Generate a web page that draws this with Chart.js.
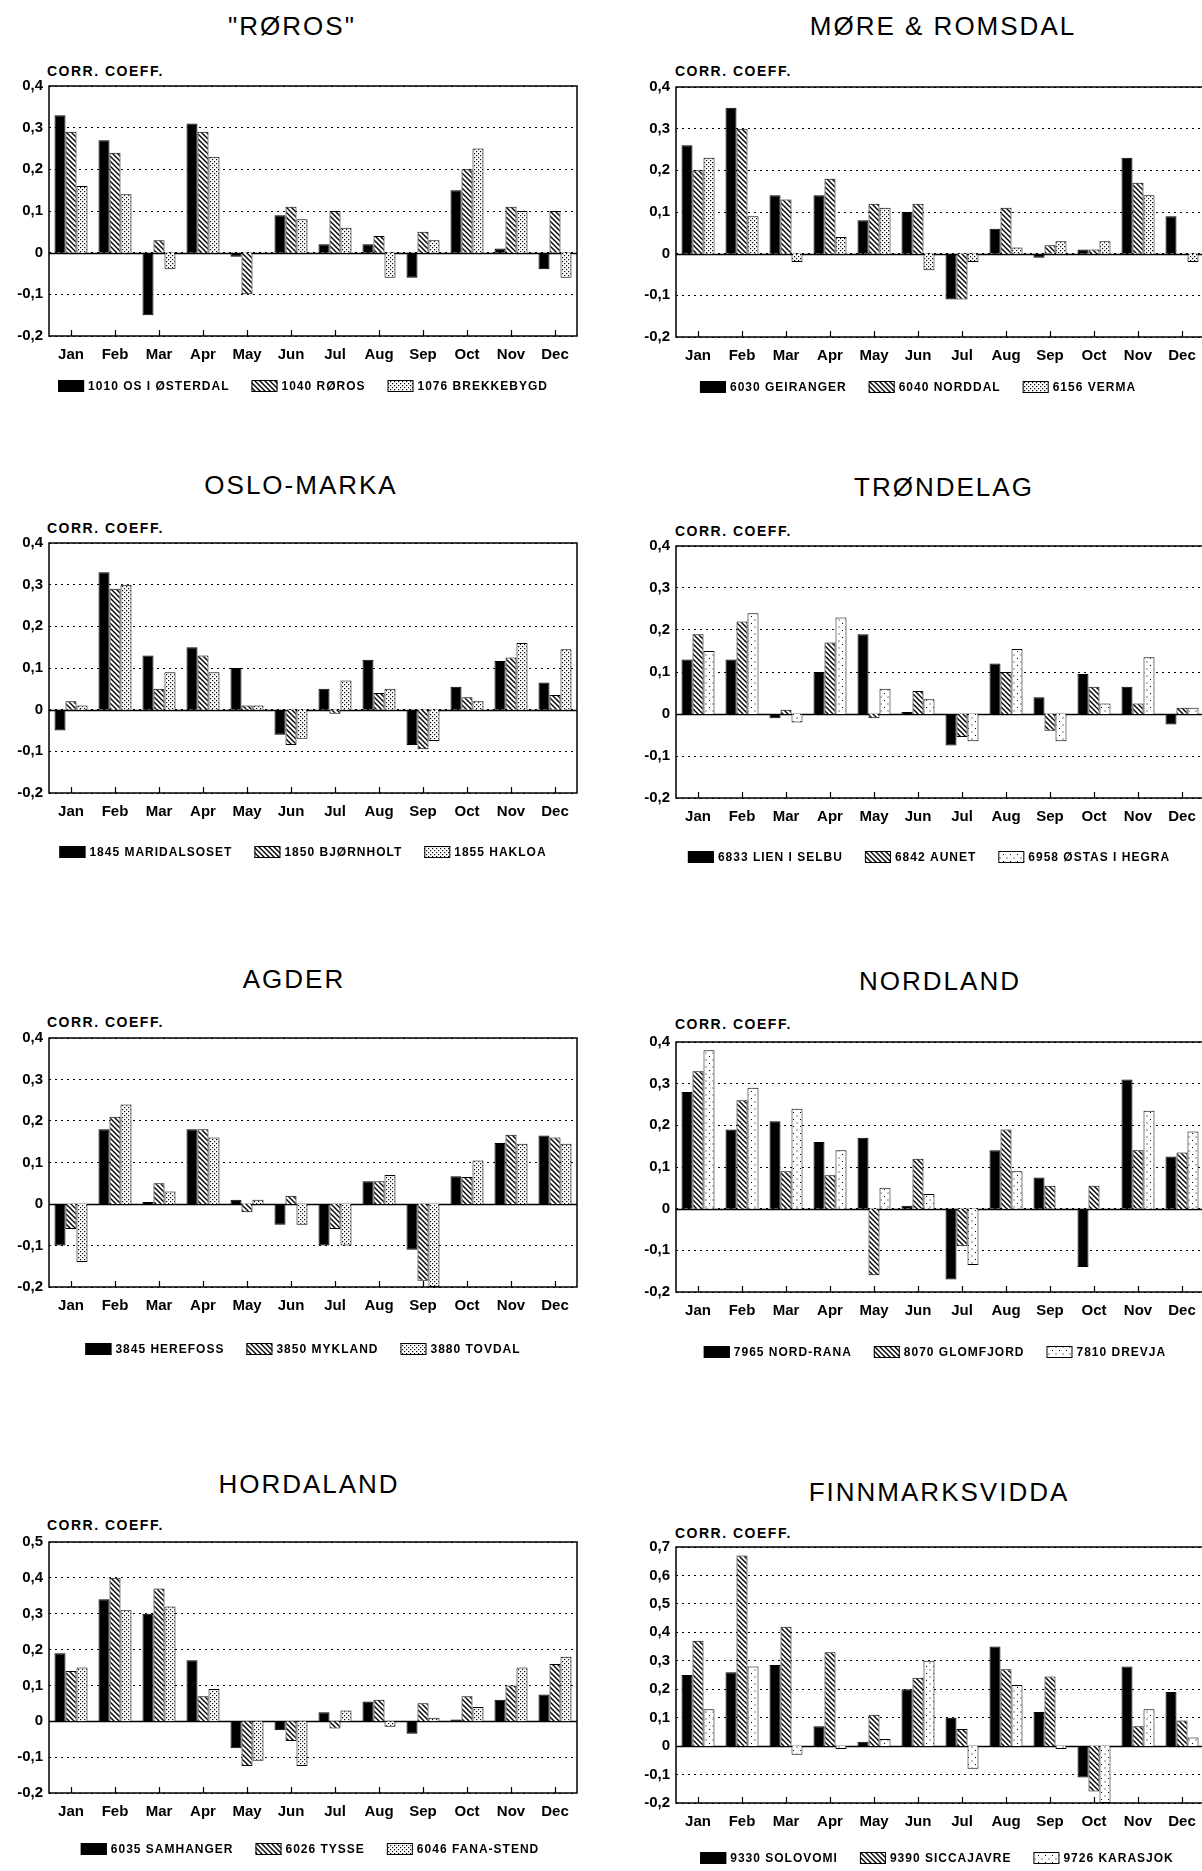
<!DOCTYPE html>
<html>
<head>
<meta charset="utf-8">
<script src="https://cdn.jsdelivr.net/npm/chart.js@4.4.0/dist/chart.umd.min.js"></script>
<style>
    html, body { margin: 0; padding: 0; background: #fff; }
    body { position: relative; width: 1202px; height: 1871px; overflow: hidden; font-family: "Liberation Sans", Arial, sans-serif; color: #000; }
    .title { position: absolute; transform: translate(-50%, -50%); font-size: 26px; letter-spacing: 2px; white-space: nowrap; }
    .corr { position: absolute; transform: translateY(-50%); font-size: 14px; font-weight: bold; letter-spacing: 1.5px; white-space: nowrap; }
    canvas { position: absolute; }
</style>
</head>
<body>
<script>
// Month categories
const months = ['Jan', 'Feb', 'Mar', 'Apr', 'May', 'Jun', 'Jul', 'Aug', 'Sep', 'Oct', 'Nov', 'Dec'];

// "RØROS"
const roros1010 = [0.33, 0.27, -0.15, 0.31, -0.01, 0.09, 0.02, 0.02, -0.06, 0.15, 0.01, -0.04];
const roros1040 = [0.29, 0.24, 0.03, 0.29, -0.10, 0.11, 0.10, 0.04, 0.05, 0.20, 0.11, 0.10];
const roros1076 = [0.16, 0.14, -0.04, 0.23, 0, 0.08, 0.06, -0.06, 0.03, 0.25, 0.10, -0.06];

// MØRE & ROMSDAL
const more6030 = [0.26, 0.35, 0.14, 0.14, 0.08, 0.10, -0.11, 0.06, -0.01, 0.01, 0.23, 0.09];
const more6040 = [0.20, 0.30, 0.13, 0.18, 0.12, 0.12, -0.11, 0.11, 0.02, 0.01, 0.17, 0];
const more6156 = [0.23, 0.09, -0.02, 0.04, 0.11, -0.04, -0.02, 0.015, 0.03, 0.03, 0.14, -0.02];

// OSLO-MARKA
const oslo1845 = [-0.05, 0.33, 0.13, 0.15, 0.10, -0.06, 0.05, 0.12, -0.085, 0.055, 0.117, 0.065];
const oslo1850 = [0.02, 0.29, 0.05, 0.13, 0.01, -0.085, -0.01, 0.04, -0.095, 0.03, 0.125, 0.035];
const oslo1855 = [0.01, 0.30, 0.09, 0.09, 0.01, -0.07, 0.07, 0.05, -0.075, 0.02, 0.16, 0.145];

// TRØNDELAG
const trond6833 = [0.13, 0.13, -0.01, 0.10, 0.19, 0.005, -0.075, 0.12, 0.04, 0.095, 0.065, -0.025];
const trond6842 = [0.19, 0.22, 0.01, 0.17, -0.01, 0.055, -0.055, 0.10, -0.04, 0.065, 0.025, 0.015];
const trond6958 = [0.15, 0.24, -0.02, 0.23, 0.06, 0.035, -0.065, 0.155, -0.065, 0.025, 0.135, 0.015];

// AGDER
const agder3845 = [-0.10, 0.18, 0.005, 0.18, 0.01, -0.05, -0.10, 0.055, -0.11, 0.067, 0.147, 0.165];
const agder3850 = [-0.06, 0.21, 0.05, 0.18, -0.02, 0.02, -0.06, 0.055, -0.185, 0.065, 0.167, 0.16];
const agder3880 = [-0.14, 0.24, 0.03, 0.16, 0.01, -0.05, -0.10, 0.07, -0.20, 0.105, 0.145, 0.145];

// NORDLAND
const nord7965 = [0.28, 0.19, 0.21, 0.16, 0.17, 0.007, -0.17, 0.14, 0.075, -0.14, 0.31, 0.125];
const nord8070 = [0.33, 0.26, 0.09, 0.08, -0.16, 0.12, -0.09, 0.19, 0.055, 0.055, 0.14, 0.135];
const nord7810 = [0.38, 0.29, 0.24, 0.14, 0.05, 0.035, -0.135, 0.09, 0, 0, 0.235, 0.185];

// HORDALAND
const hord6035 = [0.19, 0.34, 0.30, 0.17, -0.075, -0.025, 0.025, 0.055, -0.035, 0.005, 0.06, 0.075];
const hord6026 = [0.14, 0.40, 0.37, 0.07, -0.125, -0.055, -0.02, 0.06, 0.05, 0.07, 0.10, 0.16];
const hord6046 = [0.15, 0.31, 0.32, 0.09, -0.11, -0.125, 0.03, -0.015, 0.01, 0.04, 0.15, 0.18];

// FINNMARKSVIDDA
const finn9330 = [0.25, 0.26, 0.285, 0.07, 0.015, 0.20, 0.10, 0.35, 0.12, -0.11, 0.28, 0.19];
const finn9390 = [0.37, 0.67, 0.42, 0.33, 0.11, 0.24, 0.06, 0.27, 0.245, -0.16, 0.07, 0.09];
const finn9726 = [0.13, 0.28, -0.03, -0.01, 0.025, 0.30, -0.08, 0.215, -0.01, -0.20, 0.13, 0.03];

const titles = ['"RØROS"', 'MØRE & ROMSDAL', 'OSLO-MARKA', 'TRØNDELAG', 'AGDER', 'NORDLAND', 'HORDALAND', 'FINNMARKSVIDDA'];
const stationNames = [
    ['1010 OS I ØSTERDAL', '1040 RØROS', '1076 BREKKEBYGD'],
    ['6030 GEIRANGER', '6040 NORDDAL', '6156 VERMA'],
    ['1845 MARIDALSOSET', '1850 BJØRNHOLT', '1855 HAKLOA'],
    ['6833 LIEN I SELBU', '6842 AUNET', '6958 ØSTAS I HEGRA'],
    ['3845 HEREFOSS', '3850 MYKLAND', '3880 TOVDAL'],
    ['7965 NORD-RANA', '8070 GLOMFJORD', '7810 DREVJA'],
    ['6035 SAMHANGER', '6026 TYSSE', '6046 FANA-STEND'],
    ['9330 SOLOVOMI', '9390 SICCAJAVRE', '9726 KARASJOK']
];
const stationValues = [
    [roros1010, roros1040, roros1076],
    [more6030, more6040, more6156],
    [oslo1845, oslo1850, oslo1855],
    [trond6833, trond6842, trond6958],
    [agder3845, agder3850, agder3880],
    [nord7965, nord8070, nord7810],
    [hord6035, hord6026, hord6046],
    [finn9330, finn9390, finn9726]
];
const yMaxValues = [0.4, 0.4, 0.4, 0.4, 0.4, 0.4, 0.5, 0.7];

// Page layout of each panel (pixels)
const panels = [
    { col: 0, titleX: 292, titleY: 26,   corrY: 71,   top: 83,   bottom: 336,  legendX: 303, legendY: 386,  dots: 'dense' },
    { col: 1, titleX: 943, titleY: 26,   corrY: 71,   top: 84,   bottom: 337,  legendX: 918, legendY: 387,  dots: 'dense' },
    { col: 0, titleX: 301, titleY: 485,  corrY: 528,  top: 540,  bottom: 793,  legendX: 303, legendY: 852,  dots: 'dense' },
    { col: 1, titleX: 944, titleY: 487,  corrY: 531,  top: 543,  bottom: 798,  legendX: 929, legendY: 857,  dots: 'sparse' },
    { col: 0, titleX: 294, titleY: 979,  corrY: 1022, top: 1035, bottom: 1287, legendX: 303, legendY: 1349, dots: 'dense' },
    { col: 1, titleX: 940, titleY: 981,  corrY: 1024, top: 1039, bottom: 1292, legendX: 935, legendY: 1352, dots: 'sparse' },
    { col: 0, titleX: 309, titleY: 1484, corrY: 1525, top: 1539, bottom: 1793, legendX: 310, legendY: 1849, dots: 'dense' },
    { col: 1, titleX: 939, titleY: 1492, corrY: 1533, top: 1544, bottom: 1803, legendX: 937, legendY: 1858, dots: 'sparse' }
];

Chart.defaults.font.family = '"Liberation Sans", Arial, sans-serif';
Chart.defaults.color = '#000';

function makeTile(size, draw) {
    const c = document.createElement('canvas');
    c.width = size;
    c.height = size;
    const g = c.getContext('2d');
    g.fillStyle = '#fff';
    g.fillRect(0, 0, size, size);
    g.fillStyle = '#000';
    g.strokeStyle = '#000';
    draw(g);
    return g.createPattern(c, 'repeat');
}

// "\\\" hatching
const hatchFill = makeTile(5, g => {
    g.lineWidth = 1.4;
    g.beginPath();
    g.moveTo(-1, -1); g.lineTo(6, 6);
    g.moveTo(-1, 4); g.lineTo(1, 6);
    g.moveTo(4, -1); g.lineTo(6, 1);
    g.stroke();
});
const denseDots = makeTile(4, g => {
    g.fillRect(0, 0, 1.2, 1.2);
    g.fillRect(2, 2, 1.2, 1.2);
});
const sparseDots = makeTile(7, g => {
    g.fillRect(1, 1, 1, 1);
    g.fillRect(4.5, 4.5, 1, 1);
});

function formatTick(value) {
    if (Math.abs(value) < 1e-9) return '0';
    return value.toFixed(1).replace('.', ',');
}

// frame, zero line, bottom tick marks and the legend row
const framePlugin = {
    id: 'frame',
    beforeDatasetsDraw(chart) {
        const { ctx, chartArea } = chart;
        const y0 = Math.round(chart.scales.y.getPixelForValue(0)) + 0.5;
        ctx.save();
        ctx.strokeStyle = '#000';
        ctx.lineWidth = 1.5;
        ctx.beginPath();
        ctx.moveTo(chartArea.left, y0);
        ctx.lineTo(chartArea.right, y0);
        ctx.stroke();
        ctx.restore();
    },
    afterDatasetsDraw(chart) {
        const { ctx, chartArea } = chart;
        ctx.save();
        ctx.strokeStyle = '#000';
        ctx.lineWidth = 1.5;
        ctx.strokeRect(chartArea.left, chartArea.top, chartArea.right - chartArea.left, chartArea.bottom - chartArea.top);
        ctx.lineWidth = 1.2;
        ctx.beginPath();
        chart.data.labels.forEach((label, i) => {
            const x = Math.round(chart.scales.x.getPixelForValue(i)) + 0.5;
            ctx.moveTo(x, chartArea.bottom);
            ctx.lineTo(x, chartArea.bottom - 6);
        });
        ctx.stroke();
        ctx.restore();
    },
    afterDraw(chart, args, opts) {
        const ctx = chart.ctx;
        const boxW = 26, boxH = 12, textGap = 4, itemGap = 22;
        ctx.save();
        ctx.font = 'bold 12px "Liberation Sans", Arial, sans-serif';
        ctx.letterSpacing = '1px';
        ctx.textBaseline = 'middle';
        const items = chart.data.datasets.map(ds => ({ ds, w: ctx.measureText(ds.label).width }));
        let total = 0;
        items.forEach((it, i) => { total += boxW + textGap + it.w + (i < items.length - 1 ? itemGap : 0); });
        let x = opts.centerX - total / 2;
        const y = opts.centerY;
        items.forEach(it => {
            ctx.fillStyle = it.ds.backgroundColor;
            ctx.fillRect(x, y - boxH / 2, boxW, boxH);
            ctx.strokeStyle = '#000';
            ctx.lineWidth = 1;
            ctx.strokeRect(x + 0.5, y - boxH / 2 + 0.5, boxW - 1, boxH - 1);
            ctx.fillStyle = '#000';
            ctx.fillText(it.ds.label, x + boxW + textGap, y + 1);
            x += boxW + textGap + it.w + itemGap;
        });
        ctx.restore();
    }
};

panels.forEach((p, idx) => {
    // titles as page text
    const title = document.createElement('div');
    title.className = 'title';
    title.textContent = titles[idx];
    title.style.left = p.titleX + 'px';
    title.style.top = p.titleY + 'px';
    document.body.appendChild(title);

    const corr = document.createElement('div');
    corr.className = 'corr';
    corr.textContent = 'CORR. COEFF.';
    corr.style.left = (p.col === 0 ? 47 : 675) + 'px';
    corr.style.top = p.corrY + 'px';
    document.body.appendChild(corr);

    const canvasLeft = p.col === 0 ? 0 : 610;
    const canvasWidth = p.col === 0 ? 600 : 620;
    const yAxisWidth = p.col === 0 ? 49 : 66;
    const padRight = p.col === 0 ? 23 : 26;
    const canvasTop = p.top - 12;
    const canvasHeight = p.legendY + 14 - canvasTop;
    const xAxisHeight = 30;
    const padBottom = canvasHeight - xAxisHeight - (p.bottom - canvasTop);

    const canvas = document.createElement('canvas');
    canvas.width = canvasWidth;
    canvas.height = canvasHeight;
    canvas.style.left = canvasLeft + 'px';
    canvas.style.top = canvasTop + 'px';
    canvas.style.width = canvasWidth + 'px';
    canvas.style.height = canvasHeight + 'px';
    document.body.appendChild(canvas);

    const fills = ['#000', hatchFill, p.dots === 'dense' ? denseDots : sparseDots];

    new Chart(canvas, {
        type: 'bar',
        data: {
            labels: months,
            datasets: stationValues[idx].map((vals, s) => ({
                label: stationNames[idx][s],
                data: vals,
                backgroundColor: fills[s],
                borderColor: '#000',
                borderWidth: 1,
                categoryPercentage: 0.75,
                barPercentage: 1.0
            }))
        },
        options: {
            responsive: false,
            animation: false,
            devicePixelRatio: 1,
            layout: { padding: { top: 12, left: 0, right: padRight, bottom: padBottom } },
            plugins: {
                legend: { display: false },
                tooltip: { enabled: false },
                frame: { centerX: p.legendX - canvasLeft, centerY: p.legendY - canvasTop }
            },
            scales: {
                x: {
                    grid: { display: false },
                    border: { display: false },
                    ticks: { font: { size: 15, weight: 'bold' }, color: '#000', padding: 2, maxRotation: 0 },
                    afterFit: scale => { scale.height = xAxisHeight; }
                },
                y: {
                    min: -0.2,
                    max: yMaxValues[idx],
                    grid: { color: '#000', lineWidth: 1, drawTicks: false },
                    border: { display: false, dash: [2, 4] },
                    ticks: { stepSize: 0.1, font: { size: 15, weight: 'bold' }, color: '#000', padding: 6, callback: formatTick },
                    afterFit: scale => { scale.width = yAxisWidth; }
                }
            }
        },
        plugins: [framePlugin]
    });
});
</script>
</body>
</html>
